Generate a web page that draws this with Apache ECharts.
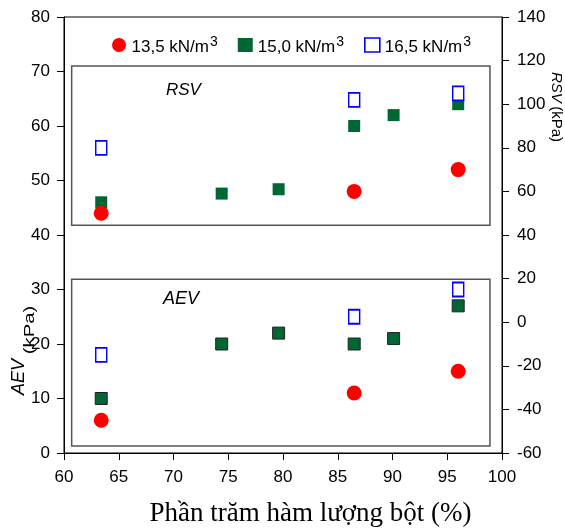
<!DOCTYPE html>
<html>
<head>
<meta charset="utf-8">
<script src="https://cdn.jsdelivr.net/npm/echarts@6/dist/echarts.min.js"></script>
<style>
  html, body { margin: 0; padding: 0; background: #fff; }
  #main { width: 565px; height: 529px; }
</style>
</head>
<body>
<div id="main"></div>
<script>
// ham luong bot (%) cho tung mau
var xRed = [63.4, 86.5, 96.0];
var xGreen = [63.4, 74.4, 79.6, 86.5, 90.1, 96.0];
var xBlue = [63.4, 86.5, 96.0];

// RSV (kPa) - truc phai
var rsvRed = [50, 60, 70];
var rsvGreen = [55, 59, 61, 90, 95, 100];
var rsvBlue = [80, 102, 105];

// AEV (kPa) - truc trai
var aevRed = [6, 11, 15];
var aevGreen = [10, 20, 22, 20, 21, 27];
var aevBlue = [18, 25, 30];

var names = ['13,5 kN/m3', '15,0 kN/m3', '16,5 kN/m3'];

function pairs(xs, ys) {
  return xs.map(function (x, i) { return [x, ys[i]]; });
}

var font = 'Liberation Sans, Arial, sans-serif';
var redStyle = { color: '#ff0000', opacity: 1 };
var greenStyle = { color: '#006633', opacity: 1 };
var blueStyle = { color: '#ffffff', borderColor: '#0000ff', borderWidth: 1.6, opacity: 1 };
var boxStyle = { color: 'rgba(0,0,0,0)', borderColor: '#555', borderWidth: 1.5 };

var myChart = echarts.init(document.getElementById('main'));
var option = {
  animation: false,
  grid: { left: 64, right: 63, top: 17, bottom: 76, outerBoundsMode: 'none', show: true, borderColor: '#000', borderWidth: 1 },
  legend: {
    left: 107, top: 30,
    itemGap: 20, itemWidth: 15, itemHeight: 14,
    data: [
      { name: names[0], icon: 'circle' },
      { name: names[1], icon: 'rect', itemStyle: { color: '#006633' } },
      { name: names[2], icon: 'rect', itemStyle: { color: '#fff', borderColor: '#0000ff', borderWidth: 1.6 } }
    ],
    formatter: function (n) { return '{t|' + n.slice(0, -1) + '}{s|3}'; },
    textStyle: {
      rich: {
        t: { fontFamily: font, fontSize: 17, color: '#000', padding: [4, 0, 0, 0] },
        s: { fontFamily: font, fontSize: 14, color: '#000', padding: [0, 0, 6, 1] }
      }
    }
  },
  xAxis: {
    type: 'value', min: 60, max: 100, interval: 5,
    axisLine: { lineStyle: { color: '#000' } },
    axisTick: { length: 7, lineStyle: { color: '#000' } },
    splitLine: { show: false },
    axisLabel: { color: '#000', fontFamily: font, fontSize: 17, margin: 16 },
    name: 'Phần trăm hàm lượng bột (%)', nameLocation: 'middle', nameGap: 47,
    nameTextStyle: { fontFamily: 'Liberation Serif, Times New Roman, serif', fontSize: 27, color: '#000', padding: [0, 0, 0, 55] }
  },
  yAxis: [{
    type: 'value', min: 0, max: 80, interval: 10,
    axisLine: { show: true, lineStyle: { color: '#000' } },
    axisTick: { show: true, length: 7, lineStyle: { color: '#000' } },
    splitLine: { show: false },
    axisLabel: { color: '#000', fontFamily: font, fontSize: 17, margin: 14 }
  }, {
    type: 'value', min: -60, max: 140, interval: 20, position: 'right',
    axisLine: { show: true, lineStyle: { color: '#000' } },
    axisTick: { show: true, length: 7, lineStyle: { color: '#000' } },
    splitLine: { show: false },
    axisLabel: { color: '#000', fontFamily: font, fontSize: 17, margin: 15 }
  }],
  graphic: [
    {
      type: 'text', x: 19, y: 377, rotation: Math.PI / 2,
      style: { text: 'AEV', align: 'center', verticalAlign: 'middle',
        fontFamily: font, fontSize: 18, fontStyle: 'italic', fill: '#000' }
    },
    {
      type: 'text', x: 30, y: 330, rotation: Math.PI / 2, scaleX: 1.35,
      style: { text: '(kPa)', align: 'center', verticalAlign: 'middle',
        fontFamily: font, fontSize: 15, fill: '#000' }
    },
    {
      type: 'text', x: 556, y: 107, rotation: -Math.PI / 2,
      style: {
        text: '{a|RSV} {b|(kPa)}', align: 'center', verticalAlign: 'middle',
        rich: {
          a: { fontFamily: font, fontSize: 15, fontStyle: 'italic', fill: '#000' },
          b: { fontFamily: font, fontSize: 15, fill: '#000' }
        }
      }
    }
  ],
  series: [
    {
      name: names[1], type: 'scatter', yAxisIndex: 1, symbol: 'rect', symbolSize: 12, z: 2,
      itemStyle: greenStyle, data: pairs(xGreen, rsvGreen),
      markArea: {
        silent: true, itemStyle: boxStyle,
        label: { show: true, position: 'insideTopLeft', offset: [90, 11], formatter: 'RSV',
          fontFamily: font, fontSize: 17, fontStyle: 'italic', color: '#000' },
        data: [[{ coord: [60.7, 44.5] }, { coord: [98.9, 117.5] }]]
      }
    },
    {
      name: names[1], type: 'scatter', yAxisIndex: 0, symbol: 'rect', symbolSize: 12, z: 2,
      itemStyle: { color: '#006633', borderColor: '#222', borderWidth: 1, opacity: 1 }, data: pairs(xGreen, aevGreen),
      markArea: {
        silent: true, itemStyle: boxStyle,
        label: { show: true, position: 'insideTopLeft', offset: [87, 7], formatter: 'AEV',
          fontFamily: font, fontSize: 18, fontStyle: 'italic', color: '#000' },
        data: [[{ coord: [60.7, 1.3] }, { coord: [98.9, 31.9] }]]
      }
    },
    { name: names[0], type: 'scatter', yAxisIndex: 1, symbol: 'circle', symbolSize: 15, z: 3, itemStyle: redStyle, data: pairs(xRed, rsvRed) },
    { name: names[0], type: 'scatter', yAxisIndex: 0, symbol: 'circle', symbolSize: 15, z: 3, itemStyle: redStyle, data: pairs(xRed, aevRed) },
    { name: names[2], type: 'scatter', yAxisIndex: 1, symbol: 'rect', symbolSize: [11, 14], z: 4, itemStyle: blueStyle, data: pairs(xBlue, rsvBlue) },
    { name: names[2], type: 'scatter', yAxisIndex: 0, symbol: 'rect', symbolSize: [11, 14], z: 4, itemStyle: blueStyle, data: pairs(xBlue, aevBlue) }
  ]
};
myChart.setOption(option);
</script>
</body>
</html>
